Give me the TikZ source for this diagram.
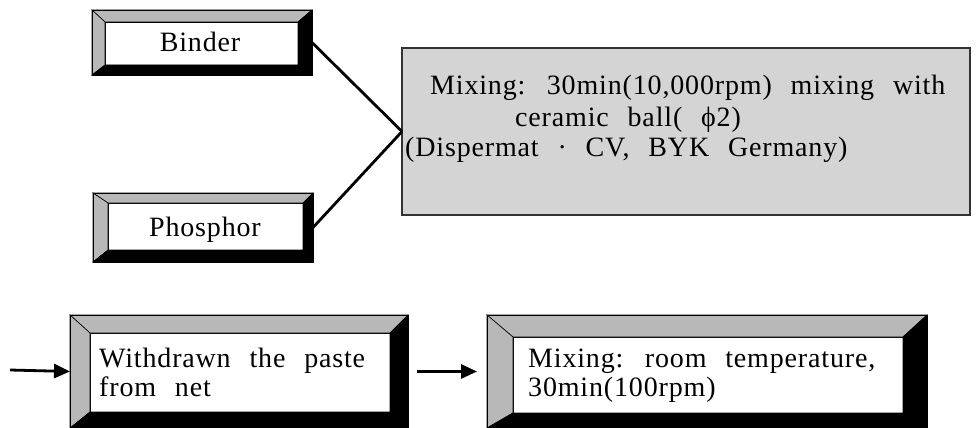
\documentclass[tikz,border=0pt]{standalone}
\usepackage{fontspec}
\setmainfont{Liberation Serif}[WordSpace=2.4, LetterSpace=3]
\usetikzlibrary{arrows.meta}
\tikzset{
  frameout/.style={rectangle, inner sep=0pt, outer sep=0pt, draw=black, line width=0.8pt},
  framein/.style={rectangle, inner sep=0pt, outer sep=0pt, fill=white, draw=black, line width=0.5pt},
  lightbevel/.style={fill=black!28, draw=black, line width=0.6pt},
  darkbevel/.style={fill=black, draw=black, line width=0.6pt},
  txt/.style={anchor=base west, inner sep=0pt, font=\fontsize{28}{33}\selectfont},
  ctxt/.style={anchor=base, inner sep=0pt, font=\fontsize{28}{33}\selectfont},
  link/.style={line width=2.8pt},
  flow/.style={line width=2.8pt, -{Triangle[length=16pt,width=14pt]}},
  mixbox/.style={rectangle, inner sep=0pt, outer sep=0pt, fill=black!17, draw=black!80, line width=1.2pt}
}
\newcommand{\bevels}[2]{%
  \fill[lightbevel] (#1.north west) -- (#1.north east) -- (#2.north east) -- (#2.north west) -- cycle;
  \fill[lightbevel] (#1.north west) -- (#2.north west) -- (#2.south west) -- (#1.south west) -- cycle;
  \fill[darkbevel] (#1.north east) -- (#1.south east) -- (#2.south east) -- (#2.north east) -- cycle;
  \fill[darkbevel] (#1.south west) -- (#1.south east) -- (#2.south east) -- (#2.south west) -- cycle;
  \draw[line width=0.8pt] (#1.north west) rectangle (#1.south east);
}
\begin{document}
\begin{tikzpicture}[x=1pt, y=-1pt]
\useasboundingbox (0,0) rectangle (978,428);

% Binder
\node[frameout, minimum width=220pt, minimum height=65pt] (binO) at (202,42.5) {};
\node[framein, minimum width=193pt, minimum height=43pt] (binI) at (201.5,43.5) {};
\bevels{binO}{binI}
\node[ctxt] (binT) at (200,52) {Binder};

% Phosphor
\node[frameout, minimum width=220pt, minimum height=69pt] (phoO) at (203,227.5) {};
\node[framein, minimum width=195pt, minimum height=47pt] (phoI) at (205.5,226.5) {};
\bevels{phoO}{phoI}
\node[ctxt] (phoT) at (205,236) {Phosphor};

% Mixing box
\node[mixbox, minimum width=568pt, minimum height=167pt] (mix) at (686,131.5) {};
\node[txt] (m1) at (430,95) {Mixing: 30min(10,000rpm) mixing with};
\node[txt] (m2) at (515,126) {ceramic ball( ϕ2)};
\node[txt] (m3) at (405,157) {(Dispermat · CV, BYK Germany)};

\draw[link] (binO.east) -- (mix.west);
\draw[link] (phoO.east) -- (mix.west);

% Withdrawn
\node[frameout, minimum width=338pt, minimum height=113pt] (witO) at (239,371.5) {};
\node[framein, minimum width=300pt, minimum height=79pt] (witI) at (240,372.5) {};
\bevels{witO}{witI}
\node[txt] (w1) at (99,367) {Withdrawn the paste};
\node[txt] (w2) at (99,396) {from net};

% Mixing room temperature
\node[frameout, minimum width=440pt, minimum height=113pt] (rooO) at (707,371.5) {};
\node[framein, minimum width=390pt, minimum height=76pt] (rooI) at (708,375) {};
\bevels{rooO}{rooI}
\node[txt] (r1) at (528,367) {Mixing: room temperature,};
\node[txt] (r2) at (528,396) {30min(100rpm)};

\coordinate (start) at (10,370);
\draw[flow] (start) -- (witO.west);
\draw[flow, shorten <=9pt, shorten >=10pt] (witO.east) -- (rooO.west);
\end{tikzpicture}
\end{document}
